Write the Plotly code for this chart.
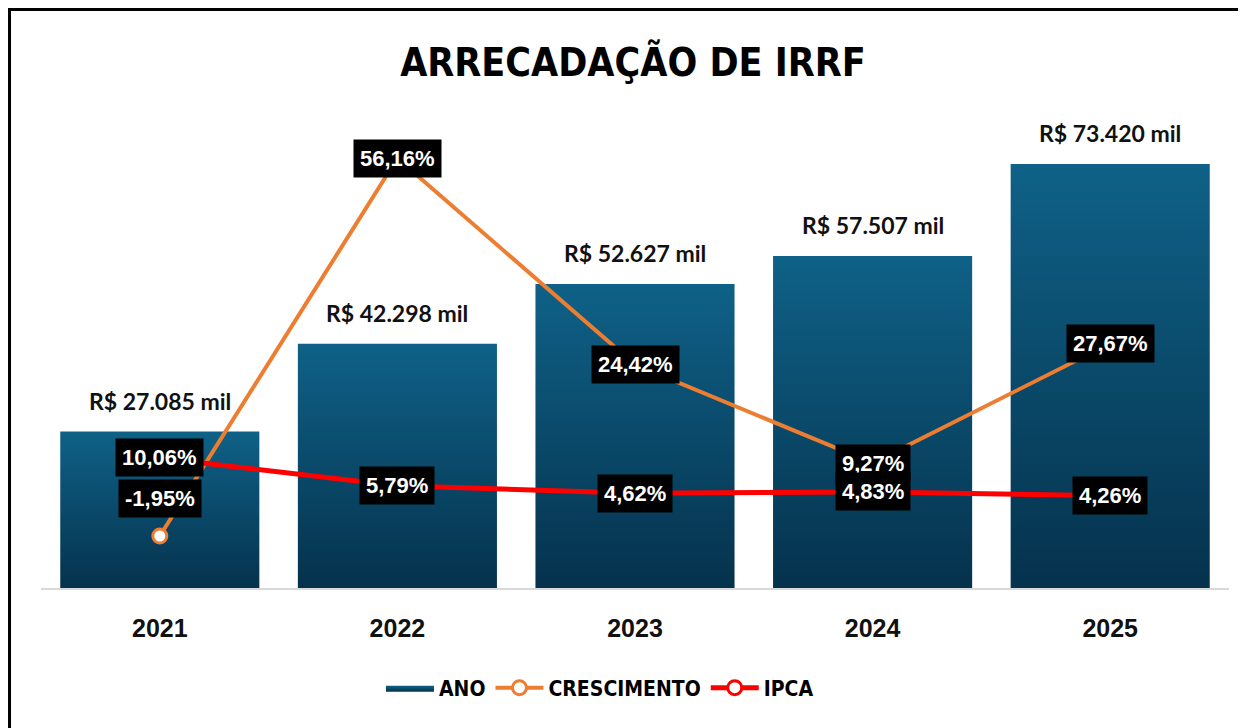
import plotly.graph_objects as go

# ---- data ----
anos = ["2021", "2022", "2023", "2024", "2025"]
arrecadacao = [27085, 42298, 52627, 57507, 73420]          # R$ mil
crescimento = [-1.95, 56.16, 24.42, 9.27, 27.67]           # %
ipca = [10.06, 5.79, 4.62, 4.83, 4.26]                     # %

# ---- style ----
BAR_TOP = "#0F6187"
BAR_BOTTOM = "#05324D"
ORANGE = "#ED7D31"
RED = "#FF0000"
HALF_W = 0.419
NARROW = "Liberation Sans Narrow, Arial Narrow, DejaVu Sans Condensed, sans-serif"
LABEL_FONT = "Lato, Inter, Open Sans, sans-serif"
PCT_FONT = "Liberation Sans, Arial, sans-serif"


def br_int(v):
    return f"{v:,}".replace(",", ".")


def br_pct(v):
    return f"{v:.2f}".replace(".", ",") + "%"


xs = list(range(len(anos)))
fig = go.Figure()

# bars with vertical gradient (one filled polygon per bar, built from data)
for i, v in zip(xs, arrecadacao):
    fig.add_trace(go.Scatter(
        x=[i - HALF_W, i + HALF_W, i + HALF_W, i - HALF_W, i - HALF_W],
        y=[0, 0, v, v, 0],
        mode="lines", line=dict(width=0, color=BAR_TOP),
        fill="toself",
        fillgradient=dict(type="vertical",
                          colorscale=[[0, BAR_BOTTOM], [1, BAR_TOP]]),
        name="ANO", legendgroup="ano", showlegend=(i == 0),
        hoverinfo="skip",
    ))

fig.add_trace(go.Scatter(
    x=xs, y=crescimento, yaxis="y2", name="CRESCIMENTO",
    mode="lines+markers",
    line=dict(color=ORANGE, width=4),
    marker=dict(size=14, color="white", line=dict(color=ORANGE, width=3)),
))
fig.add_trace(go.Scatter(
    x=xs, y=ipca, yaxis="y2", name="IPCA",
    mode="lines+markers",
    line=dict(color=RED, width=5),
    marker=dict(size=14, color="white", line=dict(color=RED, width=3)),
))

annotations = []
for i, v in zip(xs, arrecadacao):
    annotations.append(dict(
        x=i, y=v, xref="x", yref="y", text=f"R$ {br_int(v)} mil",
        showarrow=False, yanchor="bottom", yshift=15,
        font=dict(family=LABEL_FONT, size=23, color="#111111", weight="bold"),
    ))
for series, shifts in ((crescimento, [38, 0, 0, 0, 0]), (ipca, [0, 0, 0, 0, 0])):
    for i, v, s in zip(xs, series, shifts):
        annotations.append(dict(
            x=i, y=v, xref="x", yref="y2", text=br_pct(v),
            showarrow=False, yshift=s, bgcolor="black", borderpad=6,
            font=dict(family=PCT_FONT, size=22, color="white", weight="bold"),
        ))

fig.update_layout(
    width=1246, height=728,
    paper_bgcolor="white", plot_bgcolor="white",
    margin=dict(l=33, r=25, t=92, b=148),
    title=dict(text="<b>ARRECADAÇÃO DE IRRF</b>", x=0.5016, xanchor="center",
               y=0.9258, yanchor="middle", yref="container",
               font=dict(family=NARROW, size=39, color="black")),
    xaxis=dict(range=[-0.5, 4.5], tickmode="array", tickvals=xs, ticktext=anos,
               showgrid=False, zeroline=False, showline=True,
               linecolor="#D9D9D9", linewidth=2,
               ticks="outside", ticklen=17, tickcolor="rgba(0,0,0,0)",
               tickfont=dict(family=PCT_FONT, size=25, color="#111111", weight="bold")),
    yaxis=dict(range=[0, 84502], visible=False, showgrid=False),
    yaxis2=dict(range=[-9.95, 65.12], overlaying="y", visible=False, showgrid=False),
    legend=dict(orientation="h", x=0.4705, xanchor="center", y=-0.205, yanchor="middle",
                font=dict(family=NARROW, size=21, color="black", weight="bold"),
                itemwidth=48, tracegroupgap=0),
    annotations=annotations,
    shapes=[dict(type="rect", xref="paper", yref="paper",
                 x0=-0.0265, x1=1.5, y0=-1, y1=1.1855,
                 line=dict(color="black", width=3), layer="above")],
    showlegend=True,
)

fig.write_html("out.html", config={"displayModeBar": False})
